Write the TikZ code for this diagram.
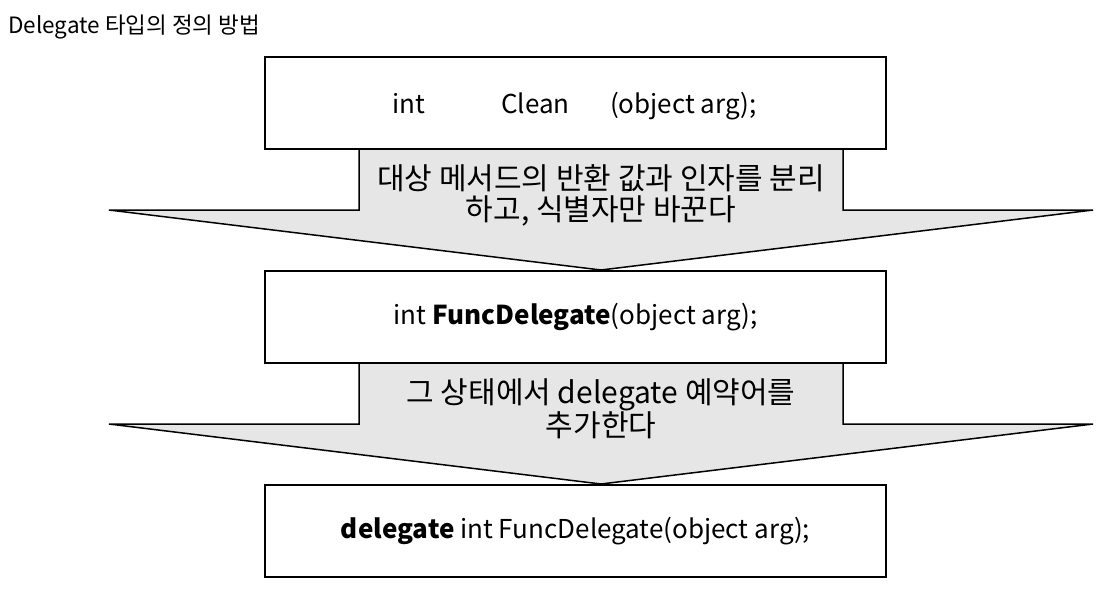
\documentclass[tikz,border=0pt]{standalone}
\usepackage{fontspec}
\setmainfont{Noto Sans CJK KR}
\begin{document}
\begin{tikzpicture}[x=1pt,y=-1pt,
  codebox/.style={draw=black,line width=1.5pt,fill=white,minimum width=621pt,minimum height=92pt,inner sep=0pt,font=\fontsize{26}{30}\selectfont},
  codetext/.style={anchor=base west,inner sep=0pt,font=\fontsize{26}{30}\selectfont},
  bigarrow/.style={draw=black,line width=1.5pt,fill=arrowgray,line join=miter},
  arrowlabel/.style={align=center,font=\fontsize{30}{31}\selectfont,inner sep=0pt}]
\definecolor{arrowgray}{HTML}{E6E6E6}
\useasboundingbox (0,0) rectangle (1103,606);
% arrows
\draw[bigarrow] (359,140) -- (359,210) -- (109,210) -- (601,270) -- (1093,210) -- (843,210) -- (843,140);
\draw[bigarrow] (359,354) -- (359,424) -- (109,424) -- (601,484) -- (1093,424) -- (843,424) -- (843,354);
% boxes
\node[codebox] (b1) at (575.5,103) {};
\node[codebox] (b2) at (575.5,317) {int \textbf{FuncDelegate}(object arg);};
\node[codebox] (b3) at (575.5,531) {\textbf{delegate} int FuncDelegate(object arg);};
\node[codetext] (t1) at (392,113) {int};
\node[codetext] (t2) at (501,113) {Clean};
\node[codetext] (t3) at (610,113) {(object arg);};
\node[arrowlabel] (l1) at (601,195) {대상 메서드의 반환 값과 인자를 분리\\하고, 식별자만 바꾼다};
\node[arrowlabel] (l2) at (601,409) {그 상태에서 delegate 예약어를\\추가한다};
\node[anchor=base west,inner sep=0pt,font=\fontsize{22.5}{26}\selectfont] (title) at (8,33) {Delegate 타입의 정의 방법};
\end{tikzpicture}
\end{document}
